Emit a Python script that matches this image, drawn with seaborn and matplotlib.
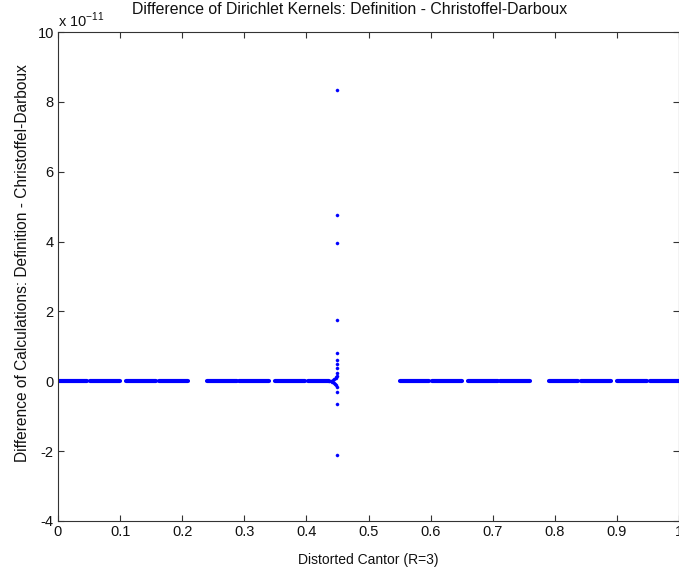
import matplotlib
matplotlib.use("Agg")
import matplotlib.pyplot as plt
import seaborn as sns
import pandas as pd

# ---- data (y values in units of 1e-11) ----
seg_start = [0.000, 0.051, 0.110, 0.162, 0.240, 0.292, 0.350, 0.402,
             0.550, 0.602, 0.660, 0.712, 0.790, 0.842, 0.900, 0.953]
seg_end   = [0.047, 0.100, 0.158, 0.210, 0.288, 0.340, 0.398, 0.436,
             0.598, 0.650, 0.708, 0.760, 0.838, 0.890, 0.949, 1.000]

spike_x = [0.4495, 0.4495, 0.4495, 0.4495, 0.4495, 0.4495, 0.4495, 0.4495,
           0.4495, 0.4495, 0.4495, 0.4495,
           0.437, 0.439, 0.441, 0.443, 0.444, 0.445, 0.446, 0.447, 0.448, 0.448, 0.449, 0.449]
spike_y = [8.35, 4.75, 3.95, 1.75, 0.80, 0.62, 0.50, 0.37, 0.25, -0.30, -0.65, -2.12,
           0.00, 0.01, -0.02, 0.03, -0.05, 0.06, -0.08, 0.09, -0.12, 0.12, 0.15, -0.15]

title = "Difference of Dirichlet Kernels: Definition - Christoffel-Darboux"
xlabel = "Distorted Cantor (R=3)"
ylabel = "Difference of Calculations: Definition - Christoffel-Darboux"
xticks = [0, 0.1, 0.2, 0.3, 0.4, 0.5, 0.6, 0.7, 0.8, 0.9, 1]
xticklabels = ["0", "0.1", "0.2", "0.3", "0.4", "0.5", "0.6", "0.7", "0.8", "0.9", "1"]
yticks = [-4, -2, 0, 2, 4, 6, 8, 10]
yticklabels = ["-4", "-2", "0", "2", "4", "6", "8", "10"]
exponent = r"x 10$^{-11}$"

# ---- build tables ----
rows = []
for i, (a, b) in enumerate(zip(seg_start, seg_end)):
    rows.append({"x": a, "y": 0.0, "seg": i})
    rows.append({"x": b, "y": 0.0, "seg": i})
seg_df = pd.DataFrame(rows)
spike_df = pd.DataFrame({"x": spike_x, "y": spike_y})

sns.set_theme(style="white")
plt.rcParams["font.family"] = ["Liberation Sans", "DejaVu Sans"]
plt.rcParams["mathtext.fontset"] = "custom"
plt.rcParams["mathtext.rm"] = "Liberation Sans"

fig = plt.figure(figsize=(6.79, 5.71), dpi=100)
ax = fig.add_axes([58 / 679, 50 / 571, 621 / 679, 489 / 571])

sns.lineplot(data=seg_df, x="x", y="y", units="seg", estimator=None,
             color="#0000ff", linewidth=3.0, ax=ax, legend=False,
             solid_capstyle="round")
sns.scatterplot(data=spike_df, x="x", y="y", color="#0000ff", s=5,
                edgecolor="#0000ff", linewidth=0.3, ax=ax, legend=False)

ax.set_xlim(0, 1)
ax.set_ylim(-4, 10)
ax.set_xticks(xticks)
ax.set_xticklabels(xticklabels)
ax.set_yticks(yticks)
ax.set_yticklabels(yticklabels)

for s in ax.spines.values():
    s.set_visible(True)
    s.set_color("#333333")
    s.set_linewidth(0.8)
ax.tick_params(axis="both", which="both", direction="in", length=4,
               width=0.8, color="#333333", labelsize=10.5, labelcolor="#111111",
               top=True, right=True, bottom=True, left=True, pad=3)

fig.text(350 / 679, 1 - 10 / 571, title, fontsize=11.4, color="#111111",
         ha="center", va="center")
ax.set_xlabel(xlabel, fontsize=10, color="#111111", labelpad=10)
ax.set_ylabel(ylabel, fontsize=11.2, color="#111111")
ax.yaxis.set_label_coords(-0.045, 0.528)
ax.text(0.0, 1.005, exponent, transform=ax.transAxes, fontsize=10.5,
        color="#111111", ha="left", va="bottom")

fig.savefig("out.png", dpi=100, facecolor="white")
